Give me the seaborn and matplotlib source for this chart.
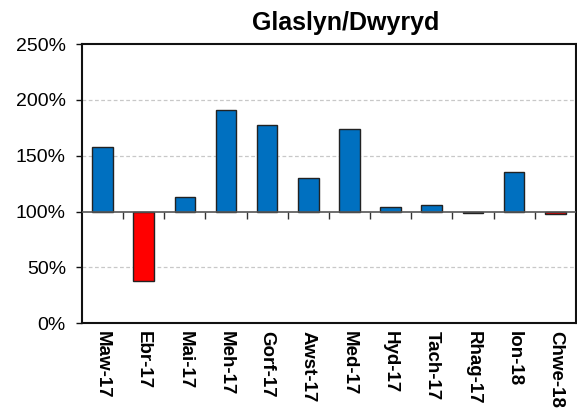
import numpy as np
import pandas as pd
import matplotlib
matplotlib.use("Agg")
import matplotlib.pyplot as plt
import seaborn as sns
from matplotlib.ticker import FuncFormatter, FixedLocator

# data (percent of baseline)
months = ['Maw-17', 'Ebr-17', 'Mai-17', 'Meh-17', 'Gorf-17', 'Awst-17',
          'Med-17', 'Hyd-17', 'Tach-17', 'Rhag-17', 'Ion-18', 'Chwe-18']
values = [158, 37.5, 113, 191, 178, 130, 174, 104.5, 106, 99, 135, 97.5]
baseline = 100
y_ticks = [0, 50, 100, 150, 200, 250]

sns.set_style('white')
plt.rcParams['font.family'] = ['Liberation Sans', 'DejaVu Sans']
plt.rcParams['text.color'] = 'black'
plt.rcParams['xtick.color'] = 'black'
plt.rcParams['ytick.color'] = 'black'

df = pd.DataFrame({'month': months, 'value': values})
df['diff'] = df['value'] - baseline
df['sign'] = np.where(df['diff'] >= 0, 'up', 'down')

fig = plt.figure(figsize=(5.77, 4.09), dpi=100)
ax = fig.add_axes([0.142, 0.21, 0.856, 0.682])

sns.barplot(data=df, x='month', y='diff', hue='sign',
            palette={'up': '#0070C0', 'down': '#FF0000'}, saturation=1,
            dodge=False, legend=False, width=0.5,
            edgecolor='#222222', linewidth=1, ax=ax, zorder=3)

ax.set_ylim(y_ticks[0] - baseline, y_ticks[-1] - baseline)
ax.set_xlim(-0.5, len(months) - 0.5)
ax.yaxis.set_major_locator(FixedLocator([t - baseline for t in y_ticks]))
ax.yaxis.set_major_formatter(FuncFormatter(lambda v, p: f'{v + baseline:.0f}%'))
ax.tick_params(axis='y', labelsize=14, length=4.5, width=1, direction='out',
               left=True, pad=7, color='#111111', labelcolor='black')
for t in y_ticks:
    if t not in (0, baseline, y_ticks[-1]):
        ax.axhline(t - baseline, color='#c8c8c8', lw=0.9, ls=(0, (3, 2)), zorder=1)

# category axis line at 100% with ticks between categories
ax.axhline(0, color='#555555', lw=1.2, zorder=4)
sec = ax.secondary_xaxis((0 - (y_ticks[0] - baseline)) / (y_ticks[-1] - y_ticks[0]))
sec.spines['bottom'].set_visible(False)
sec.xaxis.set_major_locator(FixedLocator(np.arange(0.5, len(months) - 0.5, 1)))
sec.tick_params(axis='x', length=5, width=1, direction='out', labelbottom=False,
                color='#333333')

ax.set_xticks(range(len(months)))
ax.set_xticklabels(months, rotation=270, fontsize=13.5, fontweight='bold',
                   color='black')
ax.tick_params(axis='x', length=0, pad=6)
ax.set_xlabel('')
ax.set_ylabel('')

for s in ['left', 'bottom', 'top', 'right']:
    ax.spines[s].set_visible(True)
    ax.spines[s].set_color('#111111')
    ax.spines[s].set_linewidth(1.5)

ax.set_title('Glaslyn/Dwyryd', fontsize=18, fontweight='bold', pad=10,
             x=0.535, color='black')

fig.savefig('out.png', dpi=100)
